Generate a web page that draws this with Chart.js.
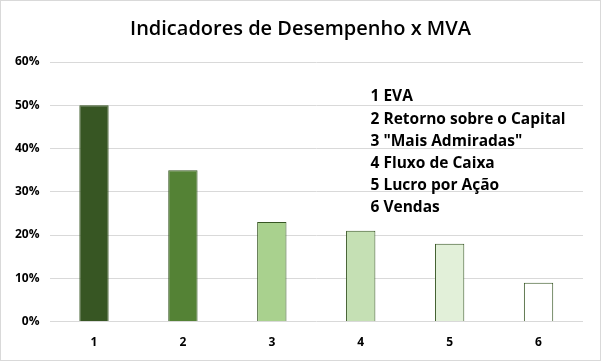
<!DOCTYPE html>
<html>
<head>
<meta charset="utf-8">
<script src="https://cdn.jsdelivr.net/npm/chart.js@4"></script>
<style>
  body { margin: 0; background: #fff; }
  #wrap { position: absolute; left: 0; top: 0; width: 599px; height: 359px; border: 1px solid #d9d9d9; }
  #title { position: absolute; left: 0; top: 12px; width: 599px; text-align: center;
           font-family: 'Open Sans', 'Liberation Sans', sans-serif; font-size: 20px; font-weight: 600;
           line-height: 30px; color: #000; }
</style>
</head>
<body>
<div id="wrap">
  <canvas id="chartContainer" width="599" height="359"></canvas>
  <div id="title">Indicadores de Desempenho x MVA</div>
</div>
<script>
// categories and values
var categories = ["1", "2", "3", "4", "5", "6"];
var values = [0.50, 0.35, 0.23, 0.21, 0.18, 0.09];
var legendLines = ["1 EVA", "2 Retorno sobre o Capital", "3 \"Mais Admiradas\"", "4 Fluxo de Caixa", "5 Lucro por Ação", "6 Vendas"];
var barColors = ["#375623", "#548235", "#a9d18e", "#c5e0b4", "#e2f0d9", "#ffffff"];

var fontFamily = "'Open Sans', 'Liberation Sans', sans-serif";

// draws the numbered list inside the plot area
var listPlugin = {
    id: 'listText',
    afterDraw: function (chart) {
        var ctx = chart.ctx;
        var area = chart.chartArea;
        ctx.save();
        ctx.fillStyle = "#000";
        ctx.font = "bold 15.5px " + fontFamily;
        ctx.textBaseline = "middle";
        ctx.textAlign = "left";
        for (var i = 0; i < legendLines.length; i++) {
            ctx.fillText(legendLines[i], area.left + 321, area.top + 35 + i * 22.2);
        }
        ctx.restore();
    }
};

var chart = new Chart(document.getElementById("chartContainer"), {
    type: 'bar',
    data: {
        labels: categories,
        datasets: [{
            data: values,
            backgroundColor: barColors,
            borderColor: "#375623",
            borderWidth: 1,
            barPercentage: 0.33,
            categoryPercentage: 1
        }]
    },
    options: {
        responsive: false,
        animation: false,
        layout: { padding: { left: 4, right: 17, top: 61, bottom: 4 } },
        plugins: {
            legend: { display: false },
            tooltip: { enabled: false },
            title: { display: false }
        },
        scales: {
            x: {
                grid: { display: false },
                border: { display: false },
                ticks: { color: "#000", font: { family: fontFamily, size: 12, weight: 'bold' }, padding: 6 }
            },
            y: {
                min: 0,
                max: 0.6,
                border: { display: false },
                grid: { color: "#d9d9d9", drawTicks: false },
                ticks: {
                    stepSize: 0.1,
                    color: "#000",
                    padding: 10,
                    font: { family: fontFamily, size: 12, weight: 'bold' },
                    callback: function (v) { return Math.round(v * 100) + "%"; }
                }
            }
        }
    },
    plugins: [listPlugin]
});
</script>
</body>
</html>
